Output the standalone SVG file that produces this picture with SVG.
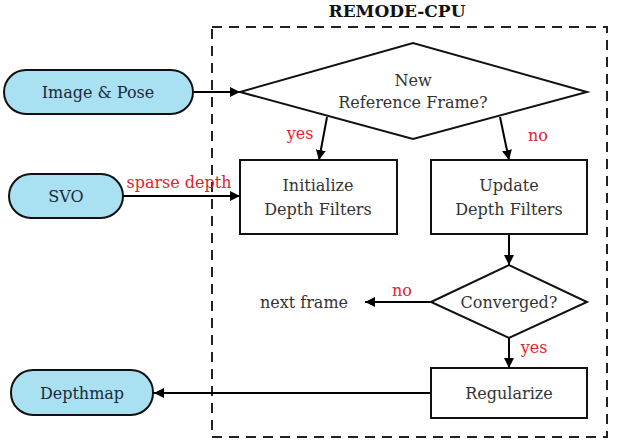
<svg xmlns="http://www.w3.org/2000/svg" width="618" height="440" viewBox="0 0 618 440">
<defs>
<marker id="ah" viewBox="0 0 10 10" refX="10" refY="5" markerWidth="10" markerHeight="10" markerUnits="userSpaceOnUse" orient="auto">
<path d="M0,0 L10,5 L0,10 z" fill="#000"/>
</marker>
<style>
text{font-family:"DejaVu Serif","Liberation Serif",serif;font-size:16px;fill:#333;text-anchor:middle;dominant-baseline:central}
.pill{fill:#a9e1f2;stroke:#111;stroke-width:2}
.pill-t{fill:#1a2a3a}
.box{fill:#fff;stroke:#111;stroke-width:2}
.lbl{fill:#e8202a}
.ln{stroke:#000;stroke-width:2;fill:none}
</style>
</defs>
<rect x="212" y="27" width="395" height="410" fill="none" stroke="#222" stroke-width="2" stroke-dasharray="10,7"/>
<text x="397" y="11" style="font-weight:bold;fill:#111;font-size:17px">REMODE-CPU</text>
<g id="connectors">
<line class="ln" x1="193" y1="92" x2="240" y2="92" marker-end="url(#ah)"/>
<line class="ln" x1="327" y1="117" x2="319" y2="160" marker-end="url(#ah)"/>
<line class="ln" x1="500" y1="117" x2="509" y2="160" marker-end="url(#ah)"/>
<line class="ln" x1="123" y1="196" x2="240" y2="196" marker-end="url(#ah)"/>
<line class="ln" x1="509" y1="234" x2="509" y2="265" marker-end="url(#ah)"/>
<line class="ln" x1="431" y1="302" x2="365" y2="302" marker-end="url(#ah)"/>
<line class="ln" x1="509" y1="338" x2="509" y2="368" marker-end="url(#ah)"/>
<line class="ln" x1="431" y1="393" x2="154" y2="393" marker-end="url(#ah)"/>
<text class="lbl" x="300" y="133">yes</text>
<text class="lbl" x="538" y="135">no</text>
<text class="lbl" x="179" y="182">sparse depth</text>
<text class="lbl" x="402" y="290">no</text>
<text class="lbl" x="534" y="347">yes</text>
</g>
<g id="image-pose"><rect class="pill" x="4" y="70" width="189" height="44" rx="22"/><text class="pill-t" x="98" y="92">Image &amp; Pose</text></g>
<g id="svo"><rect class="pill" x="9" y="174" width="114" height="44" rx="22"/><text class="pill-t" x="66" y="196">SVO</text></g>
<g id="depthmap"><rect class="pill" x="11" y="370" width="142" height="45" rx="22"/><text class="pill-t" x="82" y="393">Depthmap</text></g>
<g id="new-ref"><polygon class="box" points="240,92 413,43 587,92 413,139"/><text x="413" y="80">New</text><text x="413" y="102">Reference Frame?</text></g>
<g id="init"><rect class="box" x="240" y="160" width="157" height="74"/><text x="318" y="185">Initialize</text><text x="318" y="209">Depth Filters</text></g>
<g id="update"><rect class="box" x="431" y="160" width="156" height="74"/><text x="509" y="185">Update</text><text x="509" y="209">Depth Filters</text></g>
<g id="converged"><polygon class="box" points="431,302 509,265 587,302 509,338"/><text x="509" y="302">Converged?</text></g>
<g id="next-frame"><text x="304" y="302">next frame</text></g>
<g id="regularize"><rect class="box" x="431" y="368" width="156" height="50"/><text x="509" y="393">Regularize</text></g>
</svg>
